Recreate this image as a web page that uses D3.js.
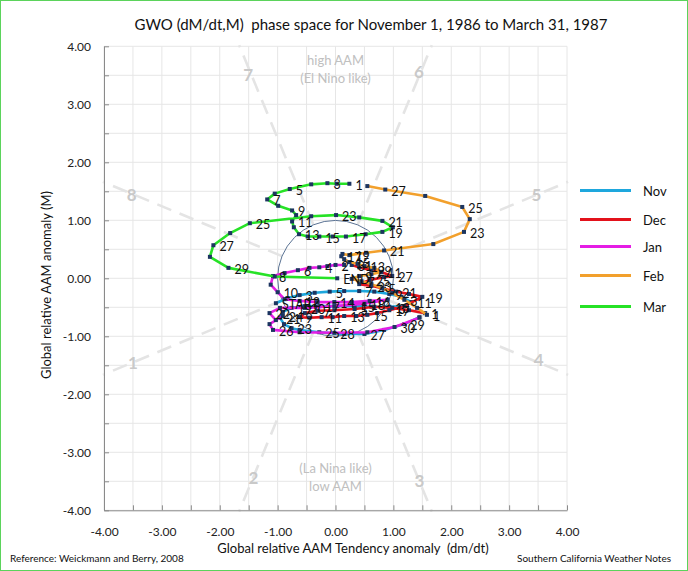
<!DOCTYPE html>
<html><head><meta charset="utf-8">
<script src="https://cdn.jsdelivr.net/npm/d3@7"></script>
<style>
body{margin:0;background:#fff;}
text{font-family:Lato,"Open Sans",sans-serif;}
</style></head>
<body><svg id="c" width="688" height="571"></svg>
<script>
// ---- data (dM/dt, M) daily values ----
const months = ["Nov","Dec","Jan","Feb","Mar"];
const monthColors = ["#1ea7dd","#e3121b","#e51de5","#f2a02c","#26e226"];
const novX=[-1.03,-0.83,-0.62,-0.36,-0.10,0.15,0.41,0.67,0.93,1.14,1.31,1.19,0.93,0.62,0.33,0.03,-0.28,-0.53,-0.76,-0.91,-0.96,-0.89,-0.76,-0.62,-0.28,0.15,0.50,0.84,1.19,1.45];
const novY=[-0.43,-0.34,-0.29,-0.25,-0.23,-0.22,-0.22,-0.23,-0.27,-0.32,-0.41,-0.48,-0.49,-0.49,-0.48,-0.48,-0.48,-0.48,-0.51,-0.58,-0.68,-0.79,-0.86,-0.89,-0.93,-0.96,-0.96,-0.89,-0.79,-0.67];
const decX=[1.55,1.27,0.98,0.67,0.33,-0.02,-0.31,-0.53,-0.62,-0.45,-0.24,-0.05,0.15,0.36,0.55,0.72,0.93,1.19,1.50,1.27,1.05,0.84,0.62,0.41,0.59,0.84,0.98,0.79,0.62,0.41,0.28];
const decY=[-0.60,-0.55,-0.51,-0.49,-0.53,-0.55,-0.56,-0.60,-0.67,-0.68,-0.67,-0.67,-0.65,-0.65,-0.63,-0.60,-0.55,-0.48,-0.32,-0.27,-0.23,-0.18,-0.13,-0.10,-0.03,0.02,0.04,0.11,0.14,0.19,0.23];
const janX=[0.15,0.00,-0.14,-0.28,-0.45,-0.65,-0.88,-1.08,-1.12,-1.00,-0.88,-0.62,-0.31,-0.02,0.28,0.59,0.90,0.50,-0.02,-0.53,-0.96,-1.14,-1.03,-0.91,-1.14,-1.08,-0.62,-0.02,0.55,1.02,1.45];
const janY=[0.23,0.23,0.21,0.19,0.18,0.14,0.09,0.04,-0.11,-0.24,-0.36,-0.39,-0.41,-0.41,-0.41,-0.39,-0.37,-0.44,-0.48,-0.51,-0.51,-0.60,-0.72,-0.65,-0.79,-0.89,-0.93,-0.94,-0.93,-0.84,-0.68];
const febX=[1.58,1.41,1.19,0.98,0.81,0.62,0.45,0.28,0.41,0.62,0.79,0.67,0.50,0.38,0.24,0.15,0.10,0.12,0.24,0.53,0.84,1.69,2.22,2.32,2.19,1.55,0.86,0.55];
const febY=[-0.63,-0.51,-0.37,-0.25,-0.17,-0.10,-0.05,-0.01,0.04,0.07,0.11,0.18,0.21,0.25,0.28,0.33,0.38,0.42,0.40,0.44,0.48,0.59,0.80,1.02,1.23,1.42,1.53,1.59];
const marX=[0.24,0.02,-0.14,-0.42,-0.79,-1.05,-1.18,-0.99,-0.75,-0.68,-0.75,-0.72,-0.63,-0.48,-0.28,-0.05,0.18,0.52,0.81,0.99,0.81,0.41,0.01,-0.42,-1.48,-1.82,-2.11,-2.17,-1.85,-1.05,0.03];
const marY=[1.63,1.63,1.64,1.62,1.54,1.46,1.36,1.25,1.17,1.09,0.98,0.88,0.76,0.72,0.72,0.72,0.72,0.76,0.80,0.88,0.99,1.05,1.09,1.07,0.95,0.78,0.57,0.37,0.18,0.03,0.00];
const labelParity = [1,1,0,1,1]; // 1 = odd days labelled, 0 = even days
const axisTicks = [-4,-3,-2,-1,0,1,2,3,4];
const phaseNames = ["1","2","3","4","5","6","7","8"];
const phaseLabelX = [-3.50,-1.42,1.45,3.51,3.47,1.44,-1.51,-3.52];
const phaseLabelY = [-1.46,-3.45,-3.50,-1.40,1.44,3.56,3.50,1.43];
const boundaryAngles = [22.5,67.5,112.5,157.5,202.5,247.5,292.5,337.5];

const seriesX=[novX,decX,janX,febX,marX], seriesY=[novY,decY,janY,febY,marY];

const svg=d3.select("#c");
svg.append("rect").attr("x",0.5).attr("y",0.5).attr("width",687).attr("height",570)
  .attr("fill","#fff").attr("stroke","#5bd35b").attr("stroke-width",1);

const x=d3.scaleLinear().domain([-4,4]).range([104,567]);
const y=d3.scaleLinear().domain([-4,4]).range([510.3,46.3]);
const half=d3.range(-4,4.001,0.5);

// grid
const g=svg.append("g");
g.selectAll("line.v").data(half).join("line").attr("x1",d=>x(d)).attr("x2",d=>x(d))
  .attr("y1",y(4)).attr("y2",y(-4)).attr("stroke","#e6e6e6").attr("stroke-width",1);
g.selectAll("line.h").data(half).join("line").attr("y1",d=>y(d)).attr("y2",d=>y(d))
  .attr("x1",x(-4)).attr("x2",x(4)).attr("stroke","#e6e6e6").attr("stroke-width",1);

// phase boundaries
const ph=svg.append("g");
ph.selectAll("line").data(boundaryAngles).join("line")
  .attr("x1",a=>x(Math.cos(a*Math.PI/180)*1.0)).attr("y1",a=>y(Math.sin(a*Math.PI/180)*1.0))
  .attr("x2",a=>x(Math.cos(a*Math.PI/180)*4.35)).attr("y2",a=>y(Math.sin(a*Math.PI/180)*4.35))
  .attr("stroke","#e4e4e4").attr("stroke-width",2.6).attr("stroke-dasharray","15,9");
ph.selectAll("text").data(phaseNames).join("text")
  .attr("x",(d,i)=>x(phaseLabelX[i])).attr("y",(d,i)=>y(phaseLabelY[i])+6)
  .attr("text-anchor","middle").attr("font-size",17).attr("font-weight","bold")
  .attr("fill","#c9c9c9").text(d=>d);
const zoneText=[["high AAM",3.76],["(El Nino like)",3.45],["(La Nina like)",-3.27],["low AAM",-3.58]];
ph.selectAll("text.z").data(zoneText).join("text")
  .attr("x",x(0)).attr("y",d=>y(d[1])+5).attr("text-anchor","middle")
  .attr("font-size",13).attr("fill","#c0c0c0").text(d=>d[0]);

// unit circle
svg.append("circle").attr("cx",x(0)).attr("cy",y(0)).attr("r",x(1)-x(0))
  .attr("fill","none").attr("stroke","#5b7394").attr("stroke-width",1);

// axes
const fmt=v=>Number.isInteger(v)?v.toFixed(2):"";
const ax=svg.append("g").attr("transform",`translate(0,${y(-4)})`)
  .call(d3.axisBottom(x).tickValues(half).tickFormat(fmt).tickSizeInner(-5).tickSizeOuter(0).tickPadding(17));
const ay=svg.append("g").attr("transform",`translate(${x(-4)},0)`)
  .call(d3.axisLeft(y).tickValues(half).tickFormat(fmt).tickSizeInner(-5).tickSizeOuter(0).tickPadding(13));
[ax,ay].forEach(a=>{a.select(".domain").attr("stroke","#8a8a8a");a.selectAll(".tick line").attr("stroke","#8a8a8a");
  a.selectAll(".tick text").attr("font-size",12).attr("fill","#222").attr("font-family","Lato,sans-serif");});

// series
const line=d3.line().x(d=>x(d[0])).y(d=>y(d[1]));
const labels=[];
months.forEach((m,i)=>{
  const pts=seriesX[i].map((v,k)=>[v,seriesY[i][k],k+1]);
  svg.append("path").datum(pts).attr("d",line).attr("fill","none")
    .attr("stroke",monthColors[i]).attr("stroke-width",2.6).attr("stroke-linejoin","round");
  svg.append("g").selectAll("rect").data(pts).join("rect")
    .attr("x",d=>x(d[0])-2).attr("y",d=>y(d[1])-2).attr("width",4).attr("height",4)
    .attr("fill","#1c3560");
  pts.forEach(p=>{
    let t=null;
    if(i===0&&p[2]===1) t="START";
    else if(i===4&&p[2]===pts.length) t="END";
    else if(p[2]%2===labelParity[i]) t=String(p[2]);
    if(t) labels.push([p[0],p[1],t]);
  });
});
svg.append("g").selectAll("text").data(labels).join("text")
  .attr("x",d=>x(d[0])+6).attr("y",d=>y(d[1])+6).attr("font-size",12.5).attr("fill","#111")
  .text(d=>d[2]);

// legend
const lg=svg.append("g");
months.forEach((m,i)=>{
  const ly=[190.5,219.5,246.5,275.5,306.5][i];
  lg.append("line").attr("x1",580).attr("x2",631).attr("y1",ly).attr("y2",ly)
    .attr("stroke",monthColors[i]).attr("stroke-width",3);
  lg.append("text").attr("x",643).attr("y",ly+5).attr("font-size",13).attr("fill","#111").text(m);
});

// titles
svg.append("text").attr("x",371).attr("y",30).attr("text-anchor","middle").attr("font-size",15)
  .attr("fill","#111").style("white-space","pre")
  .text("GWO (dM/dt,M)  phase space for November 1, 1986 to March 31, 1987");
svg.append("text").attr("x",353).attr("y",553).attr("text-anchor","middle").attr("font-size",13)
  .attr("fill","#111").style("white-space","pre").text("Global relative AAM Tendency anomaly  (dm/dt)");
svg.append("text").attr("transform","translate(51,285) rotate(-90)").attr("text-anchor","middle")
  .attr("font-size",13).attr("fill","#111").text("Global relative AAM anomaly (M)");
svg.append("text").attr("x",10).attr("y",562).attr("font-size",10).attr("fill","#111")
  .text("Reference: Weickmann and Berry, 2008");
svg.append("text").attr("x",671).attr("y",562).attr("text-anchor","end").attr("font-size",10).attr("fill","#111")
  .text("Southern California Weather Notes");
</script></body></html>
